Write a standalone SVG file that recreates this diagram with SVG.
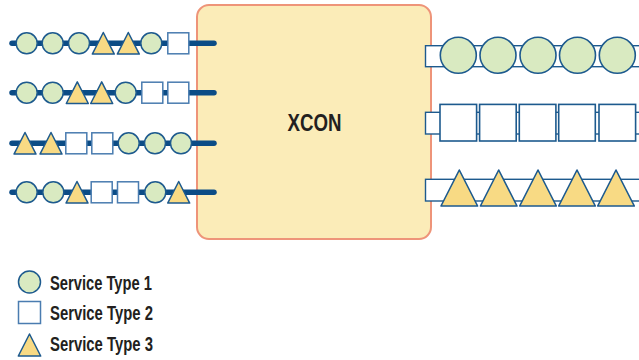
<svg xmlns="http://www.w3.org/2000/svg" width="639" height="360" viewBox="0 0 639 360">
<style>
.bg{fill:#ffffff}
.box{fill:#FBECB8;stroke:#EE9479;stroke-width:2}
.line{stroke:#0B4C86;stroke-width:5.5;stroke-linecap:round;fill:none}
.c{fill:#D9EAC1;stroke:#1D5A8E;stroke-width:1.5}
.s{fill:#ffffff;stroke:#4A7CB0;stroke-width:1.5}
.t{fill:#F8DA84;stroke:#1D5A8E;stroke-width:1.5;stroke-linejoin:round}
.band{fill:#ffffff;stroke:#1D5A8E;stroke-width:1.4}
.rc{fill:#D9EAC1;stroke:#1D5A8E;stroke-width:1.6}
.rs{fill:#ffffff;stroke:#1D5A8E;stroke-width:1.6}
.rt{fill:#F8DA84;stroke:#1D5A8E;stroke-width:1.6;stroke-linejoin:round}
.title{font-family:"Liberation Sans",Arial,sans-serif;font-weight:bold;fill:#231F20}
</style>
<defs>
<circle id="C" r="10.5" class="c"/>
<rect id="S" x="-10.5" y="-10.5" width="21" height="21" class="s"/>
<polygon id="T" points="0,-10.8 11,10.8 -11,10.8" class="t"/>
<circle id="RC" r="18" class="rc"/>
<rect id="RS" x="-18.3" y="-18.3" width="36.6" height="36.6" class="rs"/>
<polygon id="RT" points="0,-18 18.3,18 -18.3,18" class="rt"/>
</defs>
<rect class="bg" width="639" height="360"/>
<g id="xcon">
<rect class="box" x="197" y="5" width="234" height="234" rx="12" ry="12"/>
<text class="title" x="314.5" y="130.7" font-size="23.5" text-anchor="middle" textLength="54" lengthAdjust="spacingAndGlyphs">XCON</text>
</g>
<g id="connectors">
<line class="line" x1="12" y1="43.3" x2="214" y2="43.3"/>
<line class="line" x1="12" y1="92.7" x2="214" y2="92.7"/>
<line class="line" x1="12" y1="143.3" x2="214" y2="143.3"/>
<line class="line" x1="12" y1="192.3" x2="214" y2="192.3"/>
<rect class="band" x="425.5" y="45.7" width="220" height="21"/>
<rect class="band" x="425.5" y="112.3" width="220" height="21.7"/>
<rect class="band" x="425.5" y="179.3" width="220" height="21.7"/>
</g>
<g id="in-row-1" transform="translate(0,43.3)">
<use href="#C" x="26.7"/><use href="#C" x="52.7"/><use href="#C" x="79"/>
<use href="#T" x="103.3"/><use href="#T" x="128.3"/><use href="#C" x="151.3"/><use href="#S" x="178.3"/>
</g>
<g id="in-row-2" transform="translate(0,92.7)">
<use href="#C" x="26.7"/><use href="#C" x="52.7"/><use href="#T" x="77.3"/>
<use href="#T" x="101.7"/><use href="#C" x="125.7"/><use href="#S" x="152.3"/><use href="#S" x="178.3"/>
</g>
<g id="in-row-3" transform="translate(0,143.3)">
<use href="#T" x="25"/><use href="#T" x="51"/><use href="#S" x="76.3"/>
<use href="#S" x="102.3"/><use href="#C" x="128.7"/><use href="#C" x="155"/><use href="#C" x="181"/>
</g>
<g id="in-row-4" transform="translate(0,192.3)">
<use href="#C" x="26.7"/><use href="#C" x="53.3"/><use href="#T" x="77"/>
<use href="#S" x="101.7"/><use href="#S" x="128"/><use href="#C" x="155.3"/><use href="#T" x="178.7"/>
</g>
<g id="out-row-1" transform="translate(0,55.3)">
<use href="#RC" x="458.3"/><use href="#RC" x="498"/><use href="#RC" x="538"/><use href="#RC" x="577.5"/><use href="#RC" x="617.3"/>
</g>
<g id="out-row-2" transform="translate(0,122.7)">
<use href="#RS" x="458.3"/><use href="#RS" x="497.9"/><use href="#RS" x="537.6"/><use href="#RS" x="577"/><use href="#RS" x="617.3"/>
</g>
<g id="out-row-3" transform="translate(0,188)">
<use href="#RT" x="459.3"/><use href="#RT" x="498.7"/><use href="#RT" x="538"/><use href="#RT" x="577"/><use href="#RT" x="616"/>
</g>
<g id="legend-1">
<circle class="c" cx="29.5" cy="282" r="11"/>
<text class="title" x="50" y="290" font-size="19.5" textLength="102" lengthAdjust="spacingAndGlyphs">Service Type 1</text>
</g>
<g id="legend-2">
<rect class="s" x="18.5" y="301.5" width="22" height="22"/>
<text class="title" x="50" y="319.5" font-size="19.5" textLength="103" lengthAdjust="spacingAndGlyphs">Service Type 2</text>
</g>
<g id="legend-3">
<polygon class="t" points="29.5,334 40.7,356 18.3,356"/>
<text class="title" x="50" y="351" font-size="19.5" textLength="103" lengthAdjust="spacingAndGlyphs">Service Type 3</text>
</g>
</svg>
